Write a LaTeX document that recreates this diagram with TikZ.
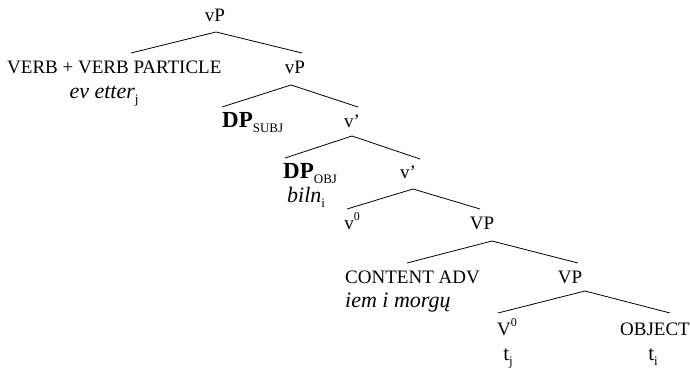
\documentclass[tikz,border=0pt]{standalone}
\usepackage{fontspec}
\setmainfont{Liberation Serif}
\newcommand{\subsm}[1]{\raisebox{-0.28em}{\fontsize{13}{13}\selectfont #1}}
\newcommand{\supsm}[1]{\raisebox{0.45em}{\fontsize{12}{12}\selectfont #1}}
\newcommand{\bigit}[1]{{\fontsize{22}{24}\selectfont\itshape #1}}
\newcommand{\dpx}{{\fontsize{23}{24}\selectfont\bfseries DP}}
\begin{document}
\begin{tikzpicture}[x=1pt,y=-1pt,
  lbl/.style={anchor=base,inner sep=0pt,font=\fontsize{19}{21}\selectfont},
  lblw/.style={lbl,anchor=base west},
  edge/.style={line width=0.8pt}]
\useasboundingbox (0,0) rectangle (690,369);
% labels
\node[lbl] (vP1) at (215,22) {vP};
\node[lblw] (verb) at (7,74) {VERB + VERB PARTICLE};
\node[lbl] (vP2) at (295,74) {vP};
\node[lbl] (evetter) at (104,98) {\bigit{ev etter}\subsm{j}};
\node[lblw] (dpsubj) at (222,127) {\dpx\subsm{SUBJ}};
\node[lbl] (vbar1) at (352,127) {v’};
\node[lblw] (dpobj) at (283,178) {\dpx\subsm{OBJ}};
\node[lbl] (vbar2) at (408,178) {v’};
\node[lblw] (biln) at (287,202) {\bigit{biln}\subsm{i}};
\node[lbl] (v0) at (352,229) {v\supsm{0}};
\node[lbl] (VP1) at (482,229) {VP};
\node[lblw] (cadv) at (345,283) {CONTENT ADV};
\node[lbl] (VP2) at (570,283) {VP};
\node[lblw] (iem) at (345,307) {\bigit{iem i morgų}};
\node[lbl] (V0) at (507,335) {V\supsm{0}};
\node[lbl] (obj) at (655,335) {OBJECT};
\node[lbl] (tj) at (508,360) {{\fontsize{21}{22}\selectfont t}\subsm{j}};
\node[lbl] (ti) at (653,360) {{\fontsize{21}{22}\selectfont t}\subsm{i}};
% branch points
\coordinate (a1) at (216,32); \coordinate (l1) at (131,53); \coordinate (r1) at (302,53);
\coordinate (a2) at (291,85); \coordinate (l2) at (222,107); \coordinate (r2) at (358,107);
\coordinate (a3) at (352,136); \coordinate (l3) at (285,158); \coordinate (r3) at (420,159);
\coordinate (a4) at (413,189); \coordinate (l4) at (347,209); \coordinate (r4) at (480,209);
\coordinate (a5) at (492,241); \coordinate (l5) at (407,263); \coordinate (r5) at (578,263);
\coordinate (a6) at (585,291); \coordinate (l6) at (498,313); \coordinate (r6) at (670,313);
\foreach \i in {1,...,6}{\draw[edge] (l\i) -- (a\i) -- (r\i);}
\end{tikzpicture}
\end{document}
